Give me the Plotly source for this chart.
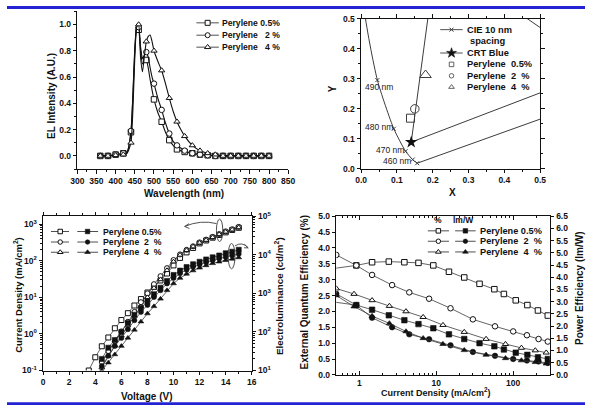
import math
import numpy as np
import plotly.graph_objects as go

W, H = 592, 412
FONT = "Liberation Sans"
BLK = "#111111"
GRY = "#3c3c3c"
BLUE = "#2323d4"


def px(x):
    return x / W


def py(y):
    return 1 - y / H


# ---------------- (a) EL spectra ----------------
wavelength = [360, 380, 400, 420, 430, 440, 445, 450, 455, 460, 465, 470, 475,
              480, 485, 490, 495, 500, 510, 520, 530, 540, 550, 560, 570, 580,
              600, 620, 640, 660, 680, 700, 720, 740, 760, 780, 800]
el_p05 = [0, 0, 0.01, 0.02, 0.03, 0.18, 0.45, 0.80, 0.97, 0.96, 0.80, 0.70, 0.72,
          0.73, 0.67, 0.58, 0.50, 0.43, 0.33, 0.26, 0.18, 0.12, 0.08, 0.05, 0.04, 0.03,
          0.02, 0.01, 0.005, 0, 0, 0, 0, 0, 0, 0, 0]
el_p2 = [0, 0, 0.01, 0.02, 0.03, 0.19, 0.47, 0.82, 0.98, 0.98, 0.83, 0.74, 0.77,
         0.79, 0.75, 0.67, 0.60, 0.55, 0.44, 0.35, 0.25, 0.17, 0.11, 0.08, 0.06, 0.04,
         0.02, 0.01, 0.005, 0, 0, 0, 0, 0, 0, 0, 0]
el_p4 = [0, 0, 0.005, 0.01, 0.02, 0.10, 0.35, 0.75, 0.98, 1.00, 0.75, 0.64, 0.76,
         0.87, 0.91, 0.92, 0.87, 0.80, 0.72, 0.65, 0.55, 0.44, 0.34, 0.26, 0.20, 0.15,
         0.08, 0.04, 0.02, 0.01, 0, 0, 0, 0, 0, 0, 0]
series_names = ["Perylene 0.5%", "Perylene\u00a0\u00a0 2 %", "Perylene\u00a0\u00a0 4 %"]

# ---------------- (b) CIE diagram ----------------
purple_line_x = [0.7347, 0.1566]          # 780 nm -> 450 nm
purple_line_y = [0.2653, 0.0177]
locus_nm = [450, 460, 470, 480, 490, 500, 510]
locus_x = [0.1566, 0.1440, 0.1241, 0.0913, 0.0454, 0.0082, 0.0139]
locus_y = [0.0177, 0.0297, 0.0578, 0.1327, 0.2950, 0.5384, 0.7502]
crt_x = [0.14, 0.21, 0.67, 0.14]
crt_y = [0.088, 0.71, 0.33, 0.088]
crt_blue = (0.14, 0.088)
pery_cie_x = [0.138, 0.150, 0.180]
pery_cie_y = [0.168, 0.199, 0.312]
locus_labels = ["490 nm", "480 nm", "470 nm", "460 nm"]

# ---------------- (c) J-V-L ----------------
voltage_p05 = [3.5, 4.0, 4.5, 5.0, 5.5, 6.0, 6.5, 7.0, 7.5, 8.0, 8.5, 9.0, 9.5,
               10.0, 10.5, 11.0, 11.5, 12.0, 12.5, 13.0, 13.5, 14.0, 14.5, 15.0]
voltage = [4.5, 5.0, 5.5, 6.0, 6.5, 7.0, 7.5, 8.0, 8.5, 9.0, 9.5,
           10.0, 10.5, 11.0, 11.5, 12.0, 12.5, 13.0, 13.5, 14.0, 14.5, 15.0]
j_p05 = [0.10, 0.23, 0.46, 0.80, 1.43, 2.4, 3.7, 6.0, 9.0, 13.6, 20, 29, 45,
         75, 120, 170, 225, 300, 360, 430, 510, 600, 700, 800]
j_p2 = [0.17, 0.34, 0.63, 1.17, 2.15, 4.0, 7.4, 12.9, 23, 38, 63,
        105, 150, 200, 250, 320, 380, 450, 540, 640, 730, 850]
j_p4 = [0.12, 0.25, 0.48, 0.9, 1.7, 3.1, 5.6, 10, 18, 31, 55,
        95, 145, 195, 245, 310, 370, 440, 530, 620, 710, 820]
l_p05 = [20, 39, 62, 100, 170, 280, 420, 620, 950, 1400, 2100,
         3000, 3900, 4800, 5700, 6600, 7600, 8600, 9600, 11000, 12000, 13500]
l_p2 = [13, 24, 43, 70, 117, 200, 330, 500, 800, 1200, 1800,
        2500, 3300, 4100, 4900, 5600, 6400, 7200, 8000, 8800, 9600, 10500]
l_p4 = [10, 16, 26, 43, 70, 113, 185, 300, 460, 720, 1200,
        1800, 2500, 3200, 3900, 4600, 5300, 6000, 6600, 7200, 7800, 8500]

# ---------------- (d) efficiencies ----------------
jd_p05 = [0.45, 0.91, 1.46, 2.41, 3.84, 5.86, 9.14, 14.6, 23.1, 36.5, 56.9, 75.7, 108, 153, 210, 282]
eqe_p05 = [3.35, 3.45, 3.55, 3.57, 3.55, 3.53, 3.45, 3.25, 3.07, 2.87, 2.70, 2.55, 2.35, 2.20, 2.03, 1.87]
pe_p05 = [2.99, 2.86, 2.67, 2.44, 2.24, 2.08, 1.91, 1.66, 1.47, 1.30, 1.17, 1.04, 0.91, 0.82, 0.72, 0.65]
jd_p2 = [0.5, 0.91, 1.46, 2.66, 4.45, 8.05, 15.3, 29.9, 58, 100, 151, 214, 282]
eqe_p2 = [3.78, 3.45, 3.15, 2.83, 2.60, 2.40, 2.10, 1.75, 1.53, 1.37, 1.25, 1.13, 1.05]
pe_p2 = [3.32, 2.86, 2.34, 1.95, 1.66, 1.46, 1.21, 0.94, 0.78, 0.65, 0.59, 0.55, 0.49]
jd_p4 = [0.5, 0.85, 1.46, 2.45, 4.03, 6.74, 12.2, 23.1, 44.4, 79.4, 128, 194, 269]
eqe_p4 = [2.72, 2.55, 2.35, 2.17, 2.00, 1.82, 1.57, 1.35, 1.13, 0.97, 0.85, 0.77, 0.70]
pe_p4 = [3.25, 2.80, 2.41, 2.11, 1.78, 1.50, 1.26, 1.01, 0.82, 0.68, 0.59, 0.52, 0.46]

symbols = ["square", "circle", "triangle-up"]

fig = go.Figure()


def open_marker(sym, size):
    return dict(symbol=sym, size=size, color="white", line=dict(color=BLK, width=1))


def solid_marker(sym, size):
    return dict(symbol=sym, size=size, color=BLK, line=dict(color=BLK, width=0.6))


# ---- panel a ----
wl = np.array(wavelength)
mask = wl % 20 == 0
for vals, sym, name in zip([el_p05, el_p2, el_p4], symbols, series_names):
    v = np.array(vals)
    fig.add_trace(go.Scatter(x=wl, y=v, mode="lines", line=dict(color=BLK, width=1.1, shape="spline", smoothing=0.5),
                             xaxis="x", yaxis="y", showlegend=False, hoverinfo="skip"))
    fig.add_trace(go.Scatter(x=wl[mask], y=v[mask], mode="markers", marker=open_marker(sym, 5.5),
                             xaxis="x", yaxis="y", name=name, showlegend=False))

# ---- panel b ----
fig.add_trace(go.Scatter(x=purple_line_x, y=purple_line_y, mode="lines", line=dict(color=GRY, width=1),
                         xaxis="x2", yaxis="y2", showlegend=False, hoverinfo="skip"))
fig.add_trace(go.Scatter(x=locus_x, y=locus_y, mode="lines+markers", text=locus_nm,
                         line=dict(color=GRY, width=1, shape="spline", smoothing=0.6),
                         marker=dict(symbol="x-thin", size=4, line=dict(color=GRY, width=1)),
                         xaxis="x2", yaxis="y2", showlegend=False))
fig.add_trace(go.Scatter(x=crt_x, y=crt_y, mode="lines", line=dict(color=GRY, width=1),
                         xaxis="x2", yaxis="y2", showlegend=False, hoverinfo="skip"))
fig.add_trace(go.Scatter(x=[crt_blue[0]], y=[crt_blue[1]], mode="markers",
                         marker=dict(symbol="star", size=9.5, color=BLK),
                         xaxis="x2", yaxis="y2", showlegend=False))
for xv, yv, sym, sz in zip(pery_cie_x, pery_cie_y, ["square-open", "circle-open", "triangle-up-open"], [8, 8.5, 10]):
    fig.add_trace(go.Scatter(x=[xv], y=[yv], mode="markers",
                             marker=dict(symbol=sym, size=sz, color=GRY, line=dict(width=1)),
                             xaxis="x2", yaxis="y2", showlegend=False))
label_pos = [(0.004, 0.272), (0.004, 0.137), (0.036, 0.062), (0.056, 0.024)]

# ---- panel c ----
for vx, vals, sym in zip([voltage_p05, voltage, voltage], [j_p05, j_p2, j_p4], symbols):
    fig.add_trace(go.Scatter(x=vx, y=vals, mode="lines+markers", line=dict(color=GRY, width=0.8),
                             marker=open_marker(sym, 5), xaxis="x3", yaxis="y3", showlegend=False))
for vals, sym in zip([l_p05, l_p2, l_p4], symbols):
    fig.add_trace(go.Scatter(x=voltage, y=vals, mode="lines+markers", line=dict(color=GRY, width=0.8),
                             marker=solid_marker(sym, 5), xaxis="x3", yaxis="y4", showlegend=False))

# ---- panel d ----
for jx, vals, sym in zip([jd_p05, jd_p2, jd_p4], [eqe_p05, eqe_p2, eqe_p4], symbols):
    fig.add_trace(go.Scatter(x=jx, y=vals, mode="lines+markers", line=dict(color=GRY, width=0.8),
                             marker=open_marker(sym, 5.5), xaxis="x4", yaxis="y5", showlegend=False,
                             cliponaxis=True))
for jx, vals, sym in zip([jd_p05, jd_p2, jd_p4], [pe_p05, pe_p2, pe_p4], symbols):
    fig.add_trace(go.Scatter(x=jx, y=vals, mode="lines+markers", line=dict(color=GRY, width=0.8),
                             marker=solid_marker(sym, 5.5), xaxis="x4", yaxis="y6", showlegend=False))

# ---------------- legends (drawn on a pixel-space overlay) ----------------
legend_items = [
    # (line x0, marker x, line x1, y, symbol, size, style)
    (194, 205.5, 217, 17.3, "square", 5, "open"),
    (194, 205.5, 217, 30.0, "circle", 5, "open"),
    (194, 205.5, 217, 42.3, "triangle-up", 5.5, "open"),
    (443.7, 455.3, 466.7, 24.3, "x-thin", 4, "x"),
    (443.7, 455.3, 466.7, 48.3, "star", 7.5, "solid"),
    (None, 455.3, None, 60.0, "square", 4.5, "openthin"),
    (None, 455.3, None, 71.7, "circle", 4.5, "openthin"),
    (None, 455.3, None, 83.3, "triangle-up", 5, "openthin"),
    (45, 54.5, 63.5, 231.7, "square", 4.5, "open"),
    (45, 54.5, 63.5, 242.5, "circle", 4.5, "open"),
    (45, 54.5, 63.5, 253.0, "triangle-up", 5, "open"),
    (72, 82.5, 93.3, 231.7, "square", 4.5, "solid"),
    (72, 82.5, 93.3, 242.5, "circle", 4.5, "solid"),
    (72, 82.5, 93.3, 253.0, "triangle-up", 5, "solid"),
    (431, 441.8, 452.7, 231.0, "square", 4.5, "open"),
    (431, 441.8, 452.7, 241.7, "circle", 4.5, "open"),
    (431, 441.8, 452.7, 252.7, "triangle-up", 5, "open"),
    (459, 469.5, 480, 231.0, "square", 4.5, "solid"),
    (459, 469.5, 480, 241.7, "circle", 4.5, "solid"),
    (459, 469.5, 480, 252.7, "triangle-up", 5, "solid"),
]
for x0, xm, x1, yy, sym, sz, style in legend_items:
    if x0 is not None:
        fig.add_trace(go.Scatter(x=[x0, x1], y=[yy, yy], mode="lines", line=dict(color=GRY, width=0.9),
                                 xaxis="x5", yaxis="y7", showlegend=False, hoverinfo="skip"))
    if style == "open":
        mk = open_marker(sym, sz)
    elif style == "openthin":
        mk = dict(symbol=sym + "-open", size=sz, color=GRY, line=dict(width=0.8))
    elif style == "x":
        mk = dict(symbol=sym, size=sz, line=dict(color=GRY, width=1))
    else:
        mk = solid_marker(sym, sz)
    fig.add_trace(go.Scatter(x=[xm], y=[yy], mode="markers", marker=mk,
                             xaxis="x5", yaxis="y7", showlegend=False, hoverinfo="skip"))

legend_texts = [
    (218.5, 17.3, series_names[0], 8.6), (218.5, 30.0, series_names[1], 8.6), (218.5, 42.3, series_names[2], 8.6),
    (469, 24.3, "CIE 10 nm", 9.3), (472, 35.7, "spacing", 9.3), (469, 48.3, "CRT Blue", 9.3),
    (469, 60.0, "Perylene\u00a0 0.5%", 9.3), (469, 71.7, "Perylene\u00a0 2\u00a0 %", 9.3),
    (469, 83.3, "Perylene\u00a0 4\u00a0 %", 9.3),
    (96.7, 231.7, "Perylene 0.5%", 8.7), (96.7, 242.5, "Perylene\u00a0 2\u00a0 %", 8.7),
    (96.7, 253.0, "Perylene\u00a0 4\u00a0 %", 8.7),
    (482, 231.0, "Perylene 0.5%", 9.2), (482, 241.7, "Perylene\u00a0 2\u00a0 %", 9.2),
    (482, 252.7, "Perylene\u00a0 4\u00a0 %", 9.2),
]
annotations = []
for xx, yy, txt, sz in legend_texts:
    annotations.append(dict(x=px(xx), y=py(yy), xref="paper", yref="paper", text=txt, showarrow=False,
                            xanchor="left", yanchor="middle", font=dict(family=FONT, size=sz, color=BLK, weight="bold")))
for xx, txt in [(441.8, "%"), (468, "lm/W")]:
    annotations.append(dict(x=px(xx), y=py(220), xref="paper", yref="paper", text=txt, showarrow=False,
                            xanchor="center", yanchor="middle", font=dict(family=FONT, size=8.5, color=BLK, weight="bold")))

# CIE wavelength labels
for (lx, ly), txt in zip(label_pos, locus_labels):
    annotations.append(dict(x=lx, y=ly, xref="x2", yref="y2", text=txt, showarrow=False, xanchor="left",
                            yanchor="middle", font=dict(family=FONT, size=8.5, color="#222222")))

# axis titles
titles = [
    (181, 193, "Wavelength (nm)", 0, 10),
    (45, 92.5, "EL Intensity (A.U.)", -90, 10),
    (456.7, 192, "X", 0, 10),
    (333.3, 85, "Y", -90, 10),
    (143, 401.5, "Voltage (V)", 0, 10),
    (10.5, 296.5, "Current Density (mA/cm<sup>2</sup>)", -90, 9.5),
    (278, 297.5, "Electroluminance (cd/m<sup>2</sup>)", -90, 9.8),
    (439.3, 397, "Current Density (mA/cm<sup>2</sup>)", 0, 9),
    (304.5, 294, "External Quantum Efficiency (%)", -90, 10),
    (586.5, 290, "Power Efficiency (lm/W)", -90, 10),
]
for xx, yy, txt, ang, sz in titles:
    annotations.append(dict(x=px(xx), y=py(yy), xref="paper", yref="paper", text=txt, showarrow=False,
                            xanchor="center", yanchor="middle", textangle=ang,
                            font=dict(family=FONT, size=sz, color=BLK, weight="bold")))

# decorative shapes: page rules, ellipses and arrows in panel c
shapes = [
    dict(type="rect", xref="paper", yref="paper", x0=0, x1=1, y0=py(3), y1=py(0), fillcolor=BLUE, line=dict(width=0)),
    dict(type="rect", xref="paper", yref="paper", x0=0, x1=1, y0=py(410), y1=py(407), fillcolor=BLUE, line=dict(width=0)),
    dict(type="circle", xref="paper", yref="paper", x0=px(214.5), x1=px(221), y0=py(242), y1=py(219),
         line=dict(color=GRY, width=0.9)),
    dict(type="circle", xref="paper", yref="paper", x0=px(226.5), x1=px(233.5), y0=py(270), y1=py(244),
         line=dict(color=GRY, width=0.9)),
]

arrow1 = "M %f,%f Q %f,%f %f,%f" % (px(214.5), py(223.5), px(198), py(219.5), px(182), py(226.5))
head1 = "M %f,%f L %f,%f L %f,%f" % (px(186.5), py(223.6), px(182), py(226.5), px(186.8), py(228.6))
arrow2 = "M %f,%f Q %f,%f %f,%f" % (px(233.5), py(246.5), px(241), py(241.5), px(247), py(248.5))
head2 = "M %f,%f L %f,%f L %f,%f" % (px(243.2), py(244.8), px(247), py(248.5), px(242.8), py(248.4))
for p in [arrow1, head1, arrow2, head2]:
    shapes.append(dict(type="path", xref="paper", yref="paper", path=p, line=dict(color=GRY, width=0.9)))

# ---------------- axes ----------------
tickfont = dict(family=FONT, size=8.5, color=BLK, weight="bold")


def ax(**kw):
    d = dict(showline=True, linecolor=BLK, linewidth=1.2, ticks="outside", ticklen=3.5, tickwidth=1,
             tickcolor=BLK, showgrid=False, zeroline=False, tickfont=tickfont, fixedrange=True)
    d.update(kw)
    return d


def minor(**kw):
    d = dict(ticks="outside", ticklen=2, tickwidth=0.8, tickcolor=BLK, showgrid=False)
    d.update(kw)
    return d


log_minor_c_left = [k * 10.0 ** e for e in range(-1, 3) for k in range(2, 10)]
log_minor_c_right = [k * 10.0 ** e for e in range(1, 5) for k in range(2, 10)]
log_minor_d = [0.6, 0.7, 0.8, 0.9] + [k for k in range(2, 10)] + [10 * k for k in range(2, 10)] + [200, 300]

layout = dict(
    width=W, height=H, autosize=False,
    margin=dict(l=0, r=0, t=0, b=0),
    paper_bgcolor="white", plot_bgcolor="rgba(0,0,0,0)",
    showlegend=False,
    font=dict(family=FONT, color=BLK),
    xaxis=ax(domain=[px(72), px(288)], range=[300, 850], anchor="y", tick0=300, dtick=50,
             minor=minor(dtick=25)),
    yaxis=ax(domain=[py(167.5), py(5.5)], range=[-0.1, 1.1], anchor="x", tick0=0, dtick=0.2,
             tickformat=".1f", minor=minor(dtick=0.1)),
    xaxis2=ax(domain=[px(362.7), px(546)], range=[0, 0.5], anchor="y2", dtick=0.1, tickformat=".1f",
              mirror="ticks", minor=minor(dtick=0.05)),
    yaxis2=ax(domain=[py(167), py(13)], range=[0, 0.5], anchor="x2", dtick=0.1, tickformat=".1f",
              mirror="ticks", minor=minor(dtick=0.05)),
    xaxis3=ax(domain=[px(37), px(250.7)], range=[0, 16], anchor="y3", dtick=2, mirror="ticks",
              minor=minor(dtick=1)),
    yaxis3=ax(domain=[py(374.5), py(216)], type="log", range=[-1, 3.22], anchor="x3",
              tickmode="array", tickvals=[0.1, 1, 10, 100, 1000],
              ticktext=["10<sup>-1</sup>", "10<sup>0</sup>", "10<sup>1</sup>", "10<sup>2</sup>", "10<sup>3</sup>"],
              minor=minor(tickmode="array", tickvals=log_minor_c_left)),
    yaxis4=ax(type="log", range=[1, 5], anchor="x3", overlaying="y3", side="right",
              tickmode="array", tickvals=[10, 100, 1000, 10000, 100000],
              ticktext=["10<sup>1</sup>", "10<sup>2</sup>", "10<sup>3</sup>", "10<sup>4</sup>", "10<sup>5</sup>"],
              minor=minor(tickmode="array", tickvals=log_minor_c_right)),
    xaxis4=ax(domain=[px(337.3), px(556)], type="log", range=[math.log10(0.5), math.log10(300)], anchor="y5",
              tickmode="array", tickvals=[1, 10, 100], ticktext=["1", "10", "100"], mirror="ticks",
              ticks="inside", minor=minor(tickmode="array", tickvals=log_minor_d, ticks="inside")),
    yaxis5=ax(domain=[py(379), py(216)], range=[0, 5], anchor="x4", dtick=0.5, tickformat=".1f"),
    yaxis6=ax(range=[0, 6.5], anchor="x4", overlaying="y5", side="right", dtick=0.5, tickformat=".1f"),
    xaxis5=dict(domain=[0, 1], range=[0, W], anchor="y7", visible=False, fixedrange=True),
    yaxis7=dict(domain=[0, 1], range=[H, 0], anchor="x5", visible=False, fixedrange=True),
    annotations=annotations,
    shapes=shapes,
)
fig.update_layout(**layout)
fig.write_html("out.html")
